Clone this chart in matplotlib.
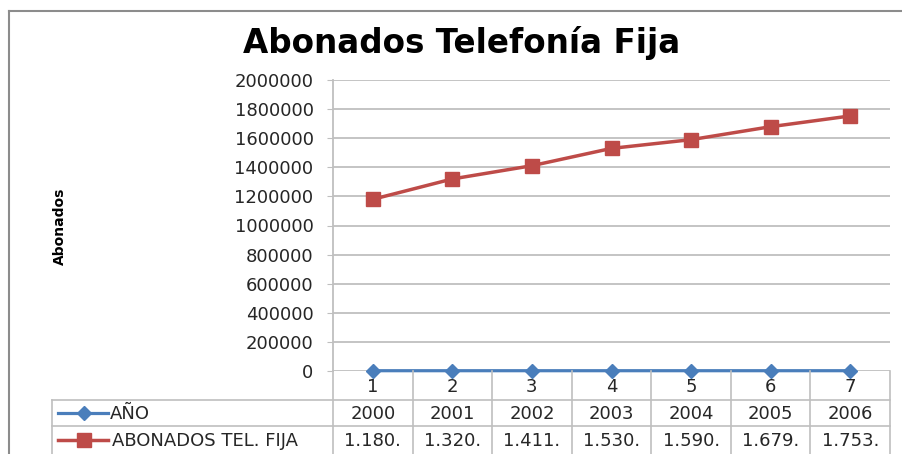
import matplotlib.pyplot as plt
from matplotlib.lines import Line2D

# Data
categorias = [1, 2, 3, 4, 5, 6, 7]
anio = [2000, 2001, 2002, 2003, 2004, 2005, 2006]
abonados = [1180000, 1320000, 1411000, 1530000, 1590000, 1679000, 1753000]
abonados_txt = ['1.180.', '1.320.', '1.411.', '1.530.', '1.590.', '1.679.', '1.753.']
yticks = list(range(0, 2000001, 200000))

W, H = 903, 454
BLUE = '#4a7ebb'
RED = '#be4b48'
GRID = '#bfbfbf'
TXT = '#262626'
FS = 13

fig = plt.figure(figsize=(W / 100, H / 100), dpi=100)
fig.patch.set_facecolor('white')

def fx(px):
    return px / W

def fy(py):
    return 1 - py / H

# Plot area
x0, x1, ytop, ybot = 333, 890, 80, 371
ax = fig.add_axes([fx(x0), fy(ybot), fx(x1 - x0), (ybot - ytop) / H])
ax.set_xlim(0.5, 7.5)
ax.set_ylim(0, 2000000)
ax.set_yticks(yticks)
ax.set_yticklabels([str(v) for v in yticks], fontsize=FS, color=TXT)
ax.set_xticks([])
ax.grid(axis='y', color=GRID, linewidth=1.3)
ax.set_axisbelow(True)
for s in ['top', 'right', 'bottom']:
    ax.spines[s].set_visible(False)
ax.spines['left'].set_color(GRID)
ax.spines['left'].set_linewidth(1.3)
ax.tick_params(axis='y', length=4, color=GRID, pad=10)

ax.plot(categorias, anio, color=BLUE, linewidth=2.3, marker='D', markersize=7,
        clip_on=False, zorder=3)
ax.plot(categorias, abonados, color=RED, linewidth=2.5, marker='s', markersize=10,
        clip_on=False, zorder=3)

# Title and y label
fig.text(fx(462), fy(43), 'Abonados Telefonía Fija', fontsize=23.5, fontweight='bold',
         ha='center', va='center', color='black')
fig.text(fx(60), fy(226), 'Abonados', rotation=90, ha='center', va='center', fontsize=10,
         fontweight='semibold', family=['Liberation Sans Narrow', 'DejaVu Sans'],
         color='black')

# Outer chart border
fig.add_artist(Line2D([fx(9), fx(903)], [fy(11), fy(11)], color='#8c8c8c', linewidth=1.5))
fig.add_artist(Line2D([fx(9), fx(9)], [fy(11), fy(454)], color='#8c8c8c', linewidth=1.5))

# Data table
cols = [x0 + i * (x1 - x0) / 7 for i in range(8)]
tl = 52
r1, r2, r3 = 371, 400, 426
lw = 1.2
for i, c in enumerate(cols):
    ystart = ybot if i == 0 else r1
    fig.add_artist(Line2D([fx(c), fx(c)], [fy(ystart), fy(454)], color=GRID, linewidth=lw))
fig.add_artist(Line2D([fx(tl), fx(x1)], [fy(r2), fy(r2)], color=GRID, linewidth=lw))
fig.add_artist(Line2D([fx(tl), fx(x1)], [fy(r3), fy(r3)], color=GRID, linewidth=lw))
fig.add_artist(Line2D([fx(tl), fx(tl)], [fy(r2), fy(454)], color=GRID, linewidth=lw))

for i in range(7):
    cx = (cols[i] + cols[i + 1]) / 2
    fig.text(fx(cx), fy((r1 + r2) / 2 + 2), str(categorias[i]), ha='center', va='center',
             fontsize=FS, color=TXT)
    fig.text(fx(cx), fy((r2 + r3) / 2 + 1), str(anio[i]), ha='center', va='center',
             fontsize=FS, color=TXT)
    fig.text(fx(cx), fy((r3 + 454) / 2 + 1), abonados_txt[i], ha='center', va='center',
             fontsize=FS, color=TXT)

# Legend keys in table rows
ky2 = (r2 + r3) / 2
ky3 = (r3 + 454) / 2
fig.add_artist(Line2D([fx(58), fx(108)], [fy(ky2), fy(ky2)], color=BLUE, linewidth=2.3))
fig.add_artist(Line2D([fx(84)], [fy(ky2)], color=BLUE, marker='D', markersize=7))
fig.add_artist(Line2D([fx(58), fx(108)], [fy(ky3), fy(ky3)], color=RED, linewidth=2.5))
fig.add_artist(Line2D([fx(84)], [fy(ky3)], color=RED, marker='s', markersize=10))
fig.text(fx(110), fy(ky2 + 1), 'AÑO', ha='left', va='center', fontsize=FS, color=TXT)
fig.text(fx(112), fy(ky3 + 1), 'ABONADOS TEL. FIJA', ha='left', va='center', fontsize=FS,
         color=TXT)

fig.savefig('out.png', dpi=100)
